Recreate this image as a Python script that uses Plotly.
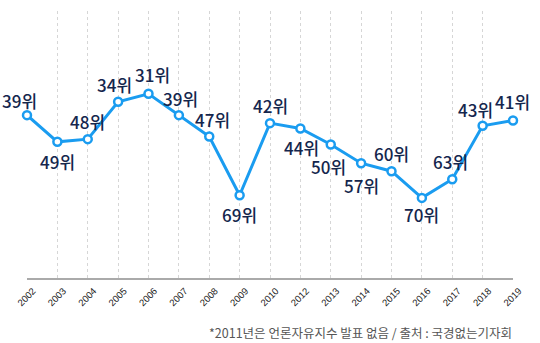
import plotly.graph_objects as go

years = ["2002", "2003", "2004", "2005", "2006", "2007", "2008", "2009", "2010",
         "2012", "2013", "2014", "2015", "2016", "2017", "2018", "2019"]
ranks = [39, 49, 48, 34, 31, 39, 47, 69, 42, 44, 50, 57, 60, 70, 63, 43, 41]
label_dx = [-8, 0, 0, -4, 4, 2, 3, 0, 0, 1, -2, 0, 0, 0, -2, -7, -1]
label_dy = [15, -20, 18, 17, 19, 17, 17, -19, 18, -19, -22, -22, 18, -17, 18, 16, 19]

LINE = "#1a9cf0"
NAVY = "#14264d"
FONT = "Noto Sans CJK KR"

fig = go.Figure()
fig.add_trace(go.Scatter(
    x=years, y=ranks, mode="lines+markers",
    line=dict(color=LINE, width=3),
    marker=dict(size=8, color="white", line=dict(color=LINE, width=2.5)),
    cliponaxis=False, hoverinfo="skip",
))

for i, (r, dx, dy) in enumerate(zip(ranks, label_dx, label_dy)):
    fig.add_annotation(
        x=i, y=r, text=f"{r}위", showarrow=False,
        xshift=dx, yshift=dy, xanchor="center", yanchor="middle",
        font=dict(family=FONT, size=17, color=NAVY, weight=500),
    )

fig.add_annotation(
    xref="paper", yref="paper", x=1.002, y=-0.205, xanchor="right", yanchor="middle",
    text="*2011년은 언론자유지수 발표 없음 / 출처 : 국경없는기자회", showarrow=False,
    font=dict(family=FONT, size=12.5, color="#555555"),
)

fig.update_xaxes(
    type="category", range=[0, 16], showgrid=True, gridcolor="#d6d6d6",
    griddash="dot", gridwidth=1, showline=True, linecolor="#aaaaaa", linewidth=1.5,
    tickangle=-45, tickfont=dict(family="Liberation Sans", size=9.5, color="#222222"),
    ticklabelshift=6, ticklabelstandoff=2,
    ticks="", zeroline=False,
)
fig.update_yaxes(
    range=[100, 0], showgrid=False, showticklabels=False, zeroline=False, showline=False,
)
fig.update_layout(
    width=540, height=343, margin=dict(l=27, r=27, t=11, b=65),
    plot_bgcolor="white", paper_bgcolor="white", showlegend=False,
)

fig.write_html("out.html")
